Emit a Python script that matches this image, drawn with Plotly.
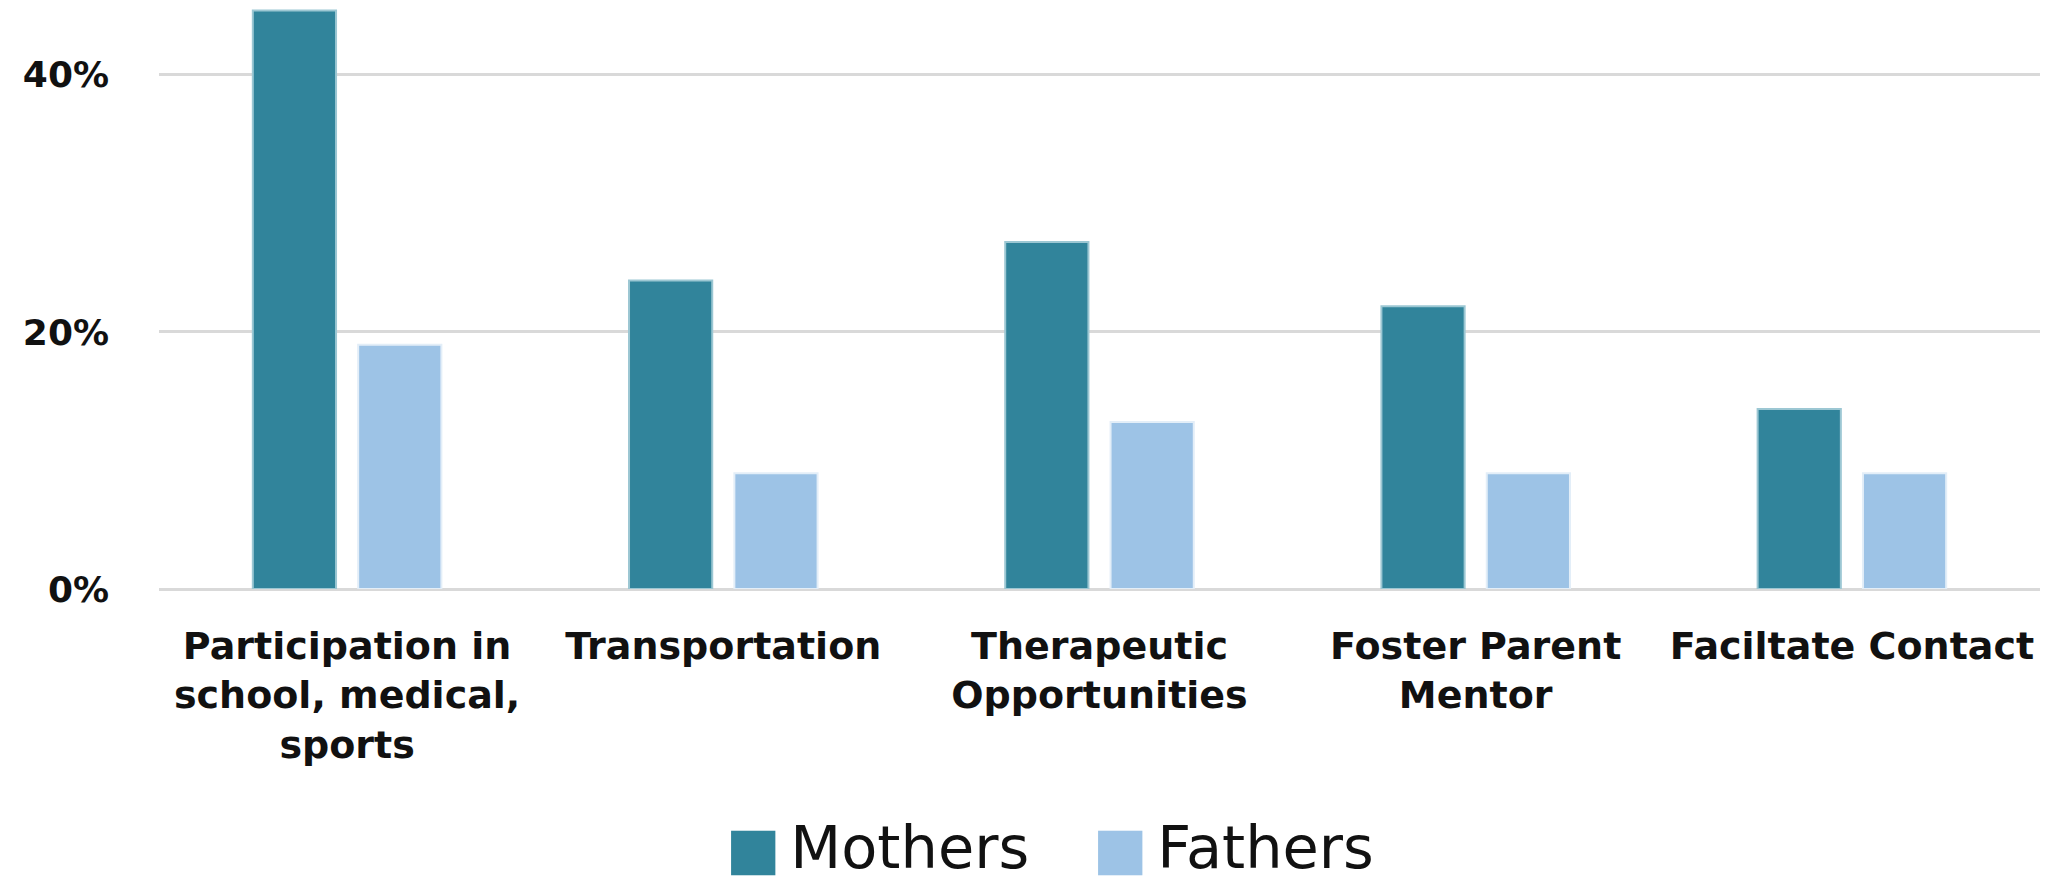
import plotly.graph_objects as go

categories = [
    "Participation in<br>school, medical,<br>sports",
    "Transportation",
    "Therapeutic<br>Opportunities",
    "Foster Parent<br>Mentor",
    "Faciltate Contact",
]
mothers = [45, 24, 27, 22, 14]
fathers = [19, 9, 13, 9, 9]
series_names = ["Mothers", "Fathers"]
series_colors = ["#31849B", "#9DC3E6"]
y_ticks = [0, 20, 40]
y_tick_labels = ["0%", "20%", "40%"]

fig = go.Figure()
fig.add_trace(go.Bar(
    x=categories, y=mothers, name=series_names[0], showlegend=False,
    marker=dict(color=series_colors[0], line=dict(color="#9CC7D3", width=2)),
))
fig.add_trace(go.Bar(
    x=categories, y=fathers, name=series_names[1], showlegend=False,
    marker=dict(color=series_colors[1], line=dict(color="#E3EEF8", width=2)),
))

# legend drawn as text: coloured square glyph + series name
legend_x = [0.3006, 0.4953]
for name, color, lx in zip(series_names, series_colors, legend_x):
    fig.add_annotation(
        xref="paper", yref="paper", x=lx, y=-0.507,
        xanchor="left", yanchor="bottom", showarrow=False,
        text=(f'<span style="color:{color};font-size:58px">■</span>'
              f'<span style="font-size:30px"> </span>{name}'),
        font=dict(family="DejaVu Sans", size=59, color="#111111"),
    )

fig.update_layout(
    width=2063, height=878,
    margin=dict(l=151, r=31, t=0, b=297, autoexpand=False),
    plot_bgcolor="white", paper_bgcolor="white",
    barmode="group", bargap=0.44, bargroupgap=0.21,
    font=dict(family="DejaVu Sans", color="#111111"),
    xaxis=dict(
        tickfont=dict(family="DejaVu Sans", size=38, weight="bold", color="#111111"),
        showgrid=False, showline=False, ticks="", ticklabelstandoff=31,
    ),
    yaxis=dict(
        range=[0, 45.2],
        tickvals=y_ticks, ticktext=y_tick_labels,
        tickfont=dict(family="DejaVu Sans", size=36, weight="bold", color="#111111"),
        showgrid=True, gridcolor="#D9D9D9", gridwidth=3,
        zeroline=True, zerolinecolor="#D9D9D9", zerolinewidth=3,
        showline=False, ticks="", ticklabelstandoff=49,
    ),
)

fig.write_html("out.html")
